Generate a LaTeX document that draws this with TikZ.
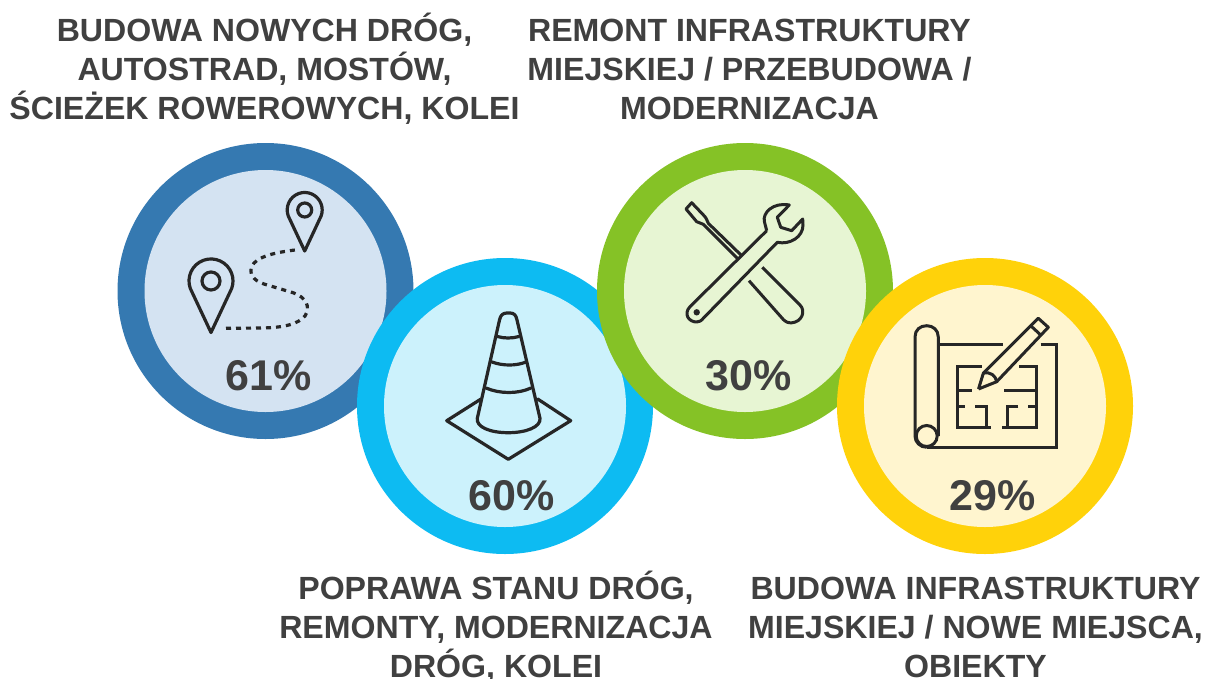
\documentclass[tikz,border=0pt]{standalone}
\usepackage{fontspec}
\setmainfont{Liberation Sans}
\definecolor{txt}{HTML}{404040}
\definecolor{ink}{HTML}{262626}
\definecolor{blueO}{HTML}{3579B1}\definecolor{blueI}{HTML}{D4E3F2}
\definecolor{cyanO}{HTML}{0DBBF2}\definecolor{cyanI}{HTML}{CCF2FC}
\definecolor{greenO}{HTML}{85C226}\definecolor{greenI}{HTML}{E7F5D3}
\definecolor{yellowO}{HTML}{FFD20A}\definecolor{yellowI}{HTML}{FFF5CF}
\tikzset{
 title/.style={font=\fontsize{32.1}{39}\selectfont\bfseries,text=txt,align=center,inner sep=0pt,anchor=base},
 pct/.style={font=\fontsize{43}{43}\selectfont\bfseries,text=txt,inner sep=0pt,anchor=base},
 icon/.style={draw=ink,line width=3.2pt,line join=round,line cap=round},
 iconthin/.style={draw=ink,line width=3pt,line join=miter,line cap=butt},
 ringO/.style={circle,minimum size=296pt,inner sep=0pt,fill=#1},
 ringI/.style={circle,minimum size=242pt,inner sep=0pt,fill=#1},
}
\newcommand{\pinpath}[4]{% x y r h
 \draw[icon] (#1,#2+#4) -- ++(-0.94*#3,-#4+0.34*#3) arc[start angle=200,end angle=-20,radius=#3 pt] -- cycle;}
\begin{document}
\begin{tikzpicture}[x=1pt,y=-1pt]
\useasboundingbox (0,0) rectangle (1205,678);
% rings
\node[ringO=blueO] (r1o) at (265.5,291) {};
\node[ringI=blueI] (r1i) at (265.5,291) {};
\node[ringO=cyanO] (r2o) at (505,406) {};
\node[ringI=cyanI] (r2i) at (505,406) {};
\node[ringO=greenO] (r3o) at (745,291) {};
\node[ringI=greenI] (r3i) at (745,291) {};
\node[ringO=yellowO] (r4o) at (985,406) {};
\node[ringI=yellowI] (r4i) at (985,406) {};
% map icon
\pinpath{211}{281}{22}{51.5}
\draw[icon] (211,281) circle[radius=9pt];
\pinpath{304.7}{210}{17.5}{41}
\draw[icon] (304.7,210) circle[radius=7pt];
\draw[draw=ink,line width=3.2pt,dash pattern=on 5pt off 5pt]
 (226,328.3) -- (262,328) .. controls (285,327.5) and (298,324) .. (305,316)
 .. controls (311,307) and (306,297) .. (293,292.7)
 -- (264,284) .. controls (252,280) and (249,273) .. (252,266)
 .. controls (256,258) and (270,253) .. (295,250);
% cone
\draw[icon] (477.3,418.3) -- (499.5,320) .. controls (500.5,315) and (503,313) .. (507,313)
 -- (510,313) .. controls (514,313) and (516,315) .. (517,320) -- (540,418.3)
 .. controls (541,427) and (526,432.7) .. (508.3,432.7)
 .. controls (490,432.7) and (476,427) .. (477.3,418.3);
\draw[icon] (497.5,336.5) .. controls (504,338.5) and (512,338.5) .. (519,336.5);
\draw[icon] (492,362) .. controls (503,366) and (516,366) .. (526,362);
\draw[icon] (486,388) .. controls (500,394) and (518,394) .. (531,388);
\draw[icon] (481,399) -- (446.7,420.7) -- (508.3,459.3) -- (570.7,420.7) -- (537.7,399);
% tools
\draw[iconthin,line join=round] (741,255) -- (708.3,223.3) .. controls (706,218) and (706,218) .. (705,216.7)
 -- (691.7,202.7) -- (686,209) -- (696.7,221.7) -- (703.3,224.3) -- (737.3,258.3);
\draw[iconthin] (762.3,267.3) -- (800,305) .. controls (806,311) and (802,322) .. (791.7,322.8)
 .. controls (788,323) and (786,322) .. (783.3,319.5) -- (749,280.7);
\draw[iconthin,line join=round] (766.7,230.7) -- (690,306.7)
 .. controls (683,314) and (689,322) .. (696.5,322)
 .. controls (699,322) and (701,321) .. (703.3,318.3)
 -- (777.3,242.3) .. controls (790,245) and (803,237) .. (803,225) -- (802.7,219)
 -- (791.7,230.7) -- (780.7,227.3) -- (777.3,217.3) -- (789.3,205)
 .. controls (773,202) and (762,213) .. (764.5,222) -- (766.7,230.7);
\fill[ink] (696.7,312.3) circle[radius=3.2pt];
% blueprint
\draw[iconthin] (938.3,344.3) -- (1002.7,344.3);
\draw[iconthin] (1040.7,344.3) -- (1056,344.3) -- (1056,447.3) -- (926.7,447.3);
\draw[iconthin] (926.7,447.3) .. controls (920,447.3) and (915,442) .. (915,436) -- (915,337)
 .. controls (915,330) and (920,325.7) .. (926.7,325.7)
 .. controls (933,325.7) and (938.3,330) .. (938.3,337) -- (938.3,436);
\draw[iconthin] (926.7,436) circle[radius=10.5pt];
\draw[iconthin] (981.7,366.7) -- (957.3,366.7) -- (957.3,427.3) -- (990.7,427.3);
\draw[iconthin] (957.3,390) -- (971.7,390);
\draw[iconthin] (957.3,406) -- (965,406);
\draw[iconthin] (975,406) -- (986,406) -- (986,427.3);
\draw[iconthin] (1019.3,366.7) -- (1036,366.7) -- (1036,427.3) -- (1002.3,427.3);
\draw[iconthin] (1004,390) -- (1036,390);
\draw[iconthin] (1028.3,406) -- (1036,406);
\draw[iconthin] (1018.3,406) -- (1007.3,406) -- (1007.3,427.3);
\draw[iconthin,line join=round] (978.5,389) -- (983.3,373.3) -- (1038.3,318.3) -- (1048.3,327.3) -- (996.7,381.7)
 -- (978.5,389);
\draw[iconthin] (983.3,373.3) .. controls (990,371) and (996,376) .. (996.7,381.7);
\draw[iconthin] (1031,326) -- (1040.7,335);
% percent
\node[pct] (p1) at (269,390) {61\%};
\node[pct] (p2) at (511.5,510) {60\%};
\node[pct] (p3) at (749,390) {30\%};
\node[pct] (p4) at (993,510) {29\%};
% titles
\node[title] (t1) at (264.5,119) {BUDOWA NOWYCH DRÓG,\\AUTOSTRAD, MOSTÓW,\\ŚCIEŻEK ROWEROWYCH, KOLEI};
\node[title] (t2) at (749.5,119) {REMONT INFRASTRUKTURY\\MIEJSKIEJ / PRZEBUDOWA /\\MODERNIZACJA};
\node[title] (t3) at (496,677) {POPRAWA STANU DRÓG,\\REMONTY, MODERNIZACJA\\DRÓG, KOLEI};
\node[title] (t4) at (975.5,677) {BUDOWA INFRASTRUKTURY\\MIEJSKIEJ / NOWE MIEJSCA,\\OBIEKTY};
\end{tikzpicture}
\end{document}
